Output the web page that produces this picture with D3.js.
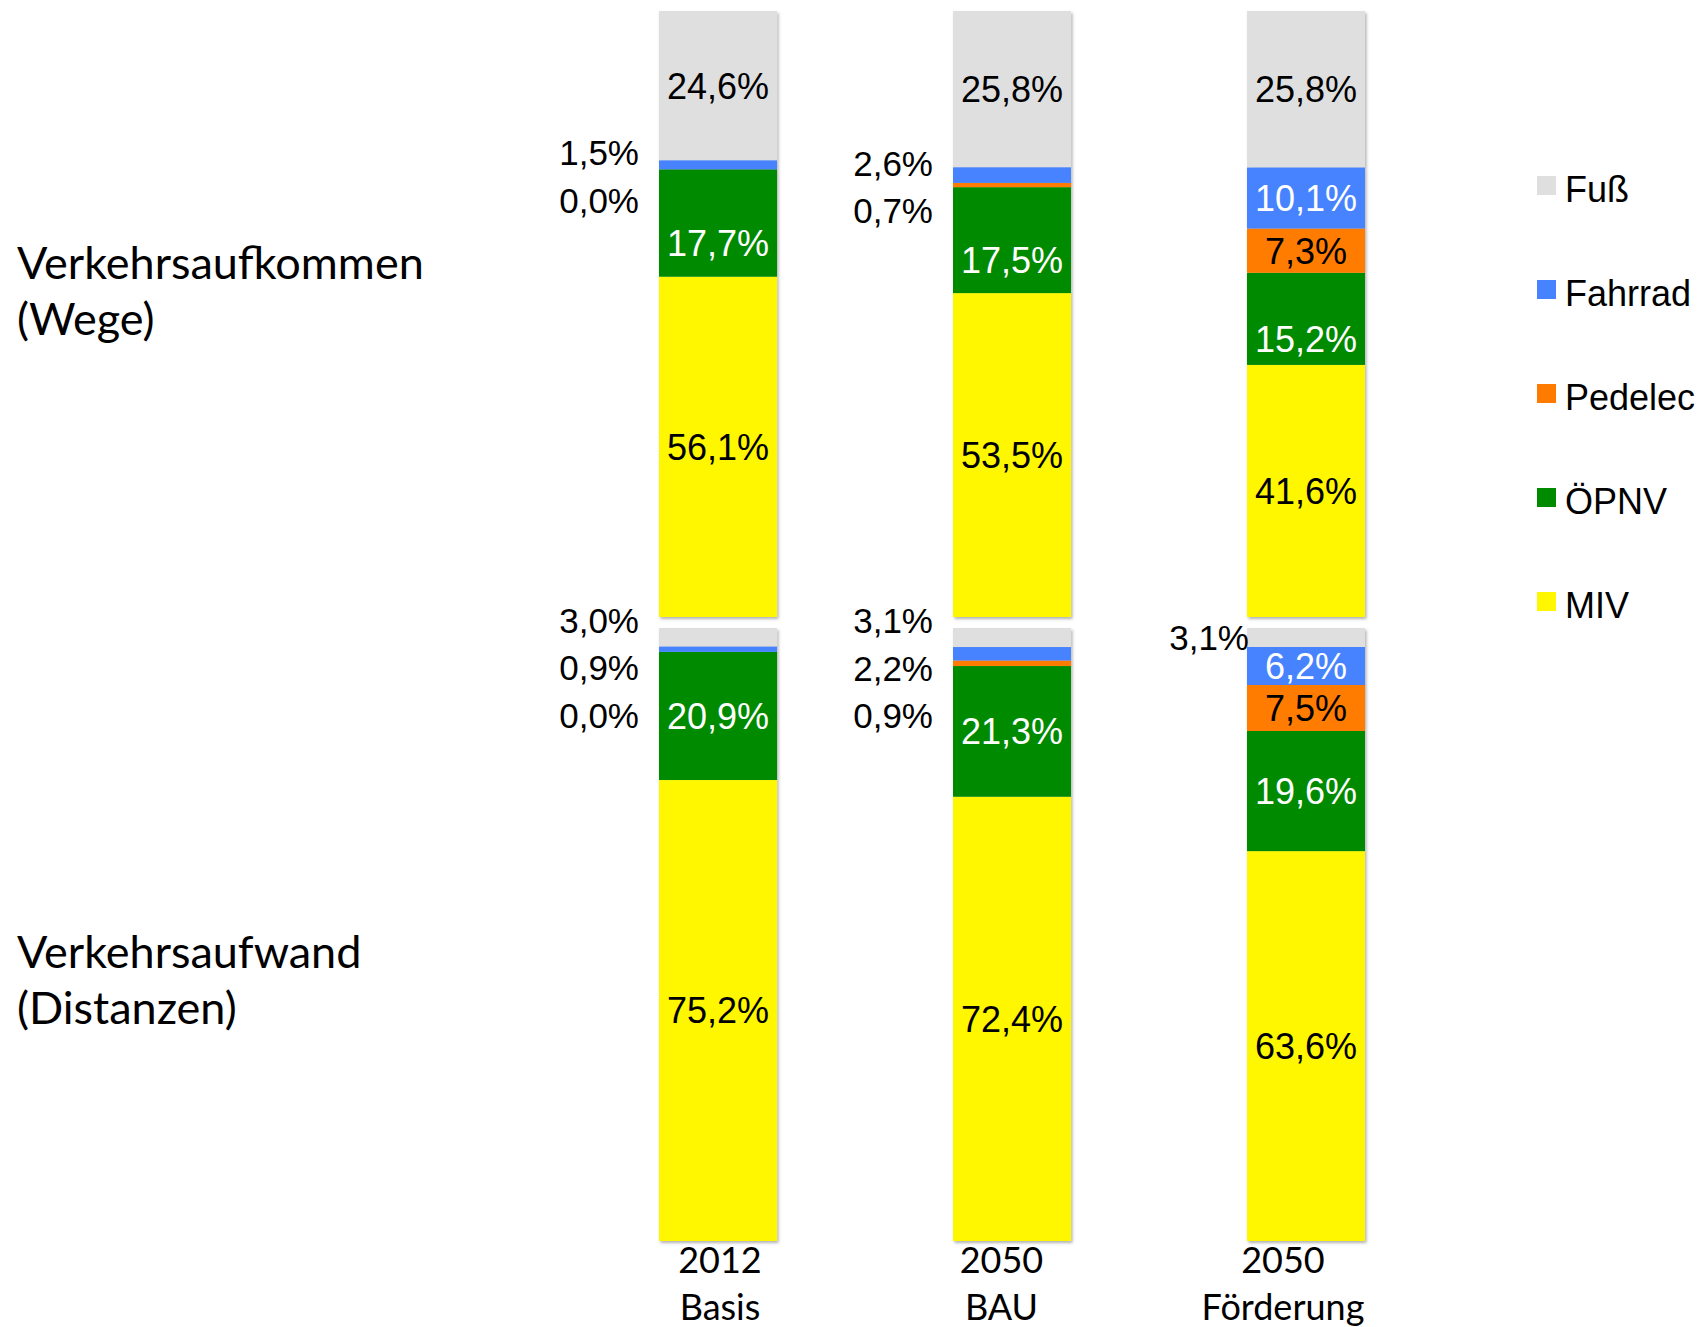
<!DOCTYPE html>
<html>
<head>
<meta charset="utf-8">
<script src="https://cdn.jsdelivr.net/npm/d3@7"></script>
<style>
  html, body { margin: 0; padding: 0; background: #ffffff; }
  svg { display: block; }
</style>
</head>
<body>
<script>
// ---------- data ----------
const catYears = ["2012", "2050", "2050"];
const catNames = ["Basis", "BAU", "Förderung"];
const categories = ["2012 Basis", "2050 BAU", "2050 Förderung"];
const seriesNames = ["Fuß", "Fahrrad", "Pedelec", "ÖPNV", "MIV"];
const seriesColors = ["#dfdfdf", "#4783ff", "#ff7b00", "#008a00", "#fff700"];
const seriesLabelColors = ["#000", "#fff", "#000", "#fff", "#000"];
const panelTitles = [["Verkehrsaufkommen", "(Wege)"], ["Verkehrsaufwand", "(Distanzen)"]];

// Verkehrsaufkommen (Wege), %
const wegeFuss    = [24.6, 25.8, 25.8];
const wegeFahrrad = [1.5, 2.6, 10.1];
const wegePedelec = [0.0, 0.7, 7.3];
const wegeOepnv   = [17.7, 17.5, 15.2];
const wegeMiv     = [56.1, 53.5, 41.6];

// Verkehrsaufwand (Distanzen), %
const distFuss    = [3.0, 3.1, 3.1];
const distFahrrad = [0.9, 2.2, 6.2];
const distPedelec = [0.0, 0.9, 7.5];
const distOepnv   = [20.9, 21.3, 19.6];
const distMiv     = [75.2, 72.4, 63.6];

// ---------- build tables ----------
function table(fuss, fahrrad, pedelec, oepnv, miv) {
  return categories.map((c, i) => ({
    cat: c, "Fuß": fuss[i], "Fahrrad": fahrrad[i], "Pedelec": pedelec[i], "ÖPNV": oepnv[i], "MIV": miv[i]
  }));
}
const panels = [
  { data: table(wegeFuss, wegeFahrrad, wegePedelec, wegeOepnv, wegeMiv), range: [617, 11], greenNudge: 20, outNudge: -12 },
  { data: table(distFuss, distFahrrad, distPedelec, distOepnv, distMiv), range: [1241, 628], greenNudge: 0, outNudge: -17 }
];

const W = 1706, H = 1327;
const svg = d3.select("body").append("svg").attr("width", W).attr("height", H);
svg.append("rect").attr("width", W).attr("height", H).attr("fill", "#fff");

const defs = svg.append("defs");
const f = defs.append("filter").attr("id", "shadow").attr("x", "-10%").attr("y", "-10%").attr("width", "130%").attr("height", "130%");
f.append("feDropShadow").attr("dx", 1.5).attr("dy", 2).attr("stdDeviation", 1.8)
  .attr("flood-color", "#000").attr("flood-opacity", 0.3);

const x = d3.scaleBand().domain(categories).range([659, 1365]).paddingInner(0.5986).paddingOuter(0);
const xLabel = d3.scalePoint().domain(categories).range([720, 1283]);
const color = d3.scaleOrdinal().domain(seriesNames).range(seriesColors);
const labelColor = d3.scaleOrdinal().domain(seriesNames).range(seriesLabelColors);
const stackKeys = seriesNames.slice().reverse(); // bottom-up: MIV ... Fuß
const fmt = v => v.toFixed(1).replace(".", ",") + "%";

const labelFont = "'Liberation Sans', Arial, sans-serif";
const calFont = "Lato, 'Open Sans', sans-serif";

panels.forEach((p, pi) => {
  const y = d3.scaleLinear().domain([0, 1]).range(p.range);
  const stacked = d3.stack().keys(stackKeys).offset(d3.stackOffsetExpand)(p.data);

  const g = svg.append("g");
  const bars = g.append("g").attr("filter", "url(#shadow)");
  stacked.forEach(layer => {
    bars.selectAll(null).data(layer).enter().append("rect")
      .attr("x", d => x(d.data.cat))
      .attr("width", x.bandwidth())
      .attr("y", d => y(d[1]))
      .attr("height", d => Math.max(0, y(d[0]) - y(d[1])))
      .attr("fill", color(layer.key));
  });

  // labels
  categories.forEach((c, ci) => {
    const outside = [];
    seriesNames.forEach(key => {
      const layer = stacked.find(l => l.key === key);
      const d = layer[ci];
      const v = d.data[key];
      const cy = (y(d[0]) + y(d[1])) / 2;
      if (v < 5) {
        outside.push({ v, cy });
      } else {
        g.append("text")
          .attr("x", x(c) + x.bandwidth() / 2)
          .attr("y", cy + (key === "ÖPNV" ? p.greenNudge : 0))
          .attr("dy", "0.36em")
          .attr("text-anchor", "middle")
          .attr("font-family", labelFont)
          .attr("font-size", 36)
          .attr("fill", labelColor(key))
          .text(fmt(v));
      }
    });
    if (outside.length) {
      const y0 = outside[0].cy + (outside.length === 1 ? 0 : p.outNudge);
      outside.forEach((o, k) => {
        g.append("text")
          .attr("x", x(c) - (ci === 2 ? -2 : 20))
          .attr("y", y0 + k * 47.5)
          .attr("dy", "0.36em")
          .attr("text-anchor", "end")
          .attr("font-family", labelFont)
          .attr("font-size", 35)
          .attr("fill", "#000")
          .text(fmt(o.v));
      });
    }
  });
});

// panel titles
const titleBase = [279, 968];
panelTitles.forEach((t, i) => {
  const tt = svg.append("text")
    .attr("x", 17).attr("y", titleBase[i])
    .attr("font-family", calFont).attr("font-size", 45).attr("fill", "#000");
  t.forEach((line, k) => {
    tt.append("tspan").attr("x", 17).attr("dy", k === 0 ? 0 : 56).text(line);
  });
});

// category labels
categories.forEach((c, i) => {
  svg.append("text").attr("x", xLabel(c)).attr("y", 1273)
    .attr("text-anchor", "middle").attr("font-family", calFont).attr("font-size", 36)
    .attr("fill", "#000").text(catYears[i]);
  svg.append("text").attr("x", xLabel(c)).attr("y", 1320)
    .attr("text-anchor", "middle").attr("font-family", calFont).attr("font-size", 36)
    .attr("fill", "#000").text(catNames[i]);
});

// legend
const legend = svg.append("g");
seriesNames.forEach((s, i) => {
  const ly = 176 + i * 104;
  legend.append("rect").attr("x", 1537).attr("y", ly).attr("width", 19).attr("height", 19).attr("fill", color(s));
  legend.append("text").attr("x", 1565).attr("y", ly + 26)
    .attr("font-family", labelFont).attr("font-size", 36).attr("fill", "#000").text(s);
});
</script>
</body>
</html>
